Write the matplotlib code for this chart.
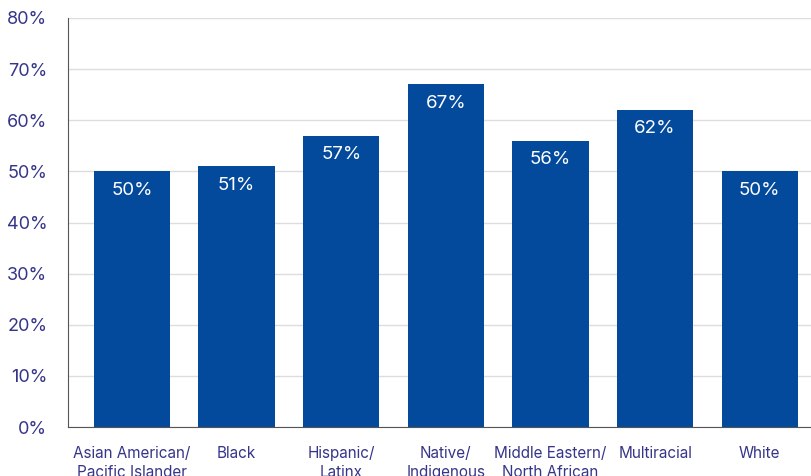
import matplotlib
matplotlib.use("Agg")
import matplotlib.pyplot as plt
from matplotlib.ticker import PercentFormatter

categories = ["Asian American/\nPacific Islander", "Black", "Hispanic/\nLatinx",
              "Native/\nIndigenous", "Middle Eastern/\nNorth African", "Multiracial", "White"]
values = [50, 51, 57, 67, 56, 62, 50]
yticks = [0, 10, 20, 30, 40, 50, 60, 70, 80]

plt.rcParams['font.family'] = ['Inter', 'DejaVu Sans']
text_color = '#35358a'
bar_color = '#034a9c'

fig = plt.figure(figsize=(8.12, 4.76), dpi=100)
ax = fig.add_axes([68/812, 1-427/476, 1-68/812, (427-18)/476])

x = list(range(len(categories)))
bars = ax.bar(x, values, width=0.73, color=bar_color, zorder=3)
for xi, v in zip(x, values):
    ax.annotate(f"{v}%", (xi, v), xytext=(0, -13.5), textcoords='offset points',
                ha='center', va='center', color='white', fontsize=13.5)

ax.set_ylim(0, 80)
ax.set_xlim(-0.612, 6.5)
ax.set_yticks(yticks)
ax.yaxis.set_major_formatter(PercentFormatter(decimals=0))
ax.set_xticks(x)
ax.set_xticklabels(categories, fontsize=11, color=text_color, linespacing=1.3)
for lab in ax.get_yticklabels():
    lab.set_fontsize(13)
    lab.set_color(text_color)
ax.tick_params(axis='both', length=0)
ax.tick_params(axis='x', pad=14)
ax.tick_params(axis='y', pad=15)
ax.grid(axis='y', color='#dddddd', linewidth=1, zorder=0)
for s in ['top', 'right']:
    ax.spines[s].set_visible(False)
ax.spines['left'].set_color('#555555')
ax.spines['bottom'].set_color('#555555')
ax.spines['left'].set_zorder(4)
ax.spines['bottom'].set_zorder(4)

fig.savefig("out.png", dpi=100)
